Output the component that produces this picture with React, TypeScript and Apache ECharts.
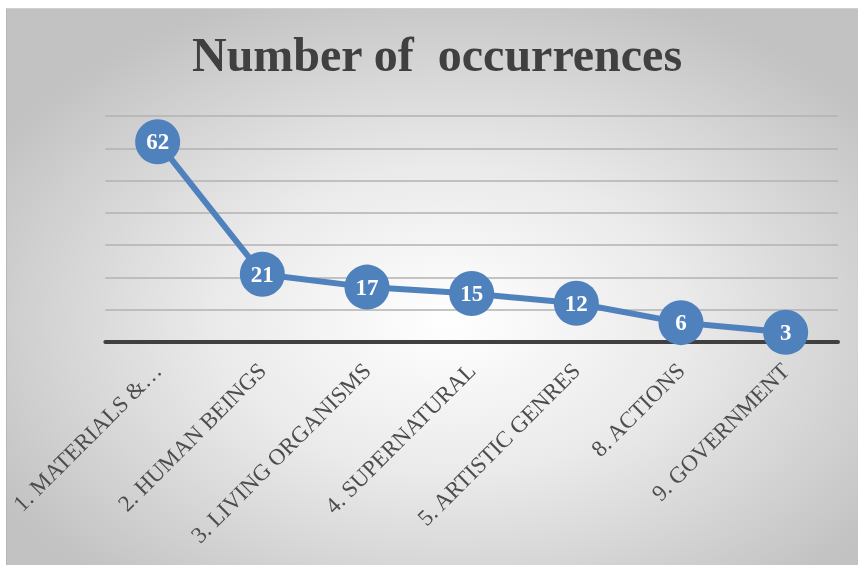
import React, { useEffect, useRef } from "react";
import * as echarts from "echarts";

const categories = [
  "1. MATERIALS &…",
  "2. HUMAN BEINGS",
  "3. LIVING ORGANISMS",
  "4. SUPERNATURAL",
  "5. ARTISTIC GENRES",
  "8. ACTIONS",
  "9. GOVERNMENT",
];
const occurrences = [62, 21, 17, 15, 12, 6, 3];
const titleText = "Number of  occurrences";

export default function App() {
  const ref = useRef<HTMLDivElement>(null);
  useEffect(() => {
    if (!ref.current) return;
    const chart = echarts.init(ref.current, null, { renderer: "svg" });
    chart.setOption({
      animation: false,
      title: {
        text: titleText,
        left: 180,
        top: 16,
        textStyle: {
          fontFamily: "Liberation Serif",
          fontWeight: "bold",
          fontSize: 48,
          color: "#404040",
        },
      },
      grid: { left: 97, right: 20, top: 107, bottom: 223 },
      xAxis: {
        type: "category",
        data: categories,
        boundaryGap: true,
        axisLine: { show: true, lineStyle: { color: "#404040", width: 4 } },
        axisTick: { show: false },
        axisLabel: {
          rotate: 45,
          margin: 25,
          interval: 0,
          fontFamily: "Liberation Serif",
          fontSize: 23,
          color: "#4d4d4d",
        },
      },
      yAxis: {
        type: "value",
        min: 0,
        max: 70,
        interval: 10,
        axisLabel: { show: false },
        axisLine: { show: false },
        axisTick: { show: false },
        splitLine: { lineStyle: { color: "#b2b2b2", width: 1.5 } },
      },
      series: [
        {
          type: "line",
          data: occurrences,
          symbol: "circle",
          symbolSize: 45,
          lineStyle: { color: "#4F81BD", width: 6 },
          itemStyle: { color: "#4F81BD" },
          label: {
            show: true,
            position: "inside",
            color: "#ffffff",
            fontFamily: "Liberation Serif",
            fontWeight: "bold",
            fontSize: 23,
          },
          z: 3,
        },
      ],
    });
    return () => chart.dispose();
  }, []);
  return (
    <div
      style={{
        position: "fixed",
        left: 6,
        top: 8,
        width: 852,
        height: 557,
        background:
          "radial-gradient(ellipse 62% 62% at 52% 56%, #ffffff 0%, #eaeaea 45%, #c2c2c2 100%)",
        borderLeft: "1px solid #b8b8b8",
        borderTop: "1px solid #d0d0d0",
        boxSizing: "border-box",
      }}
    >
      <div ref={ref} style={{ width: "100%", height: "100%" }} />
    </div>
  );
}
